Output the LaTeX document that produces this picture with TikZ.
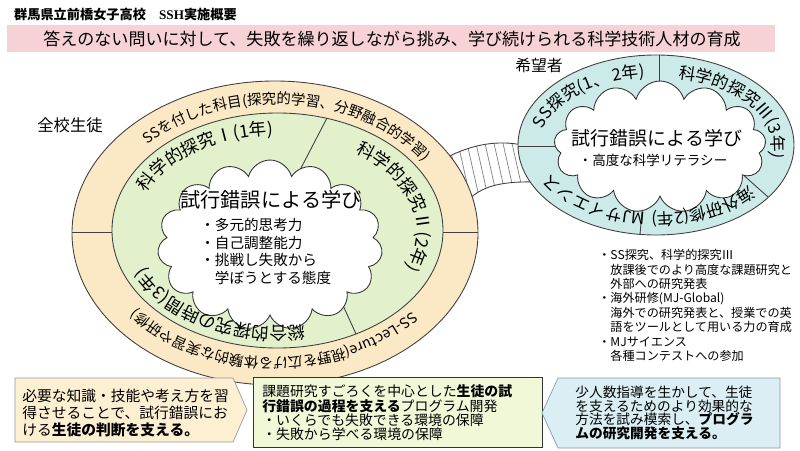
\documentclass[tikz,border=0pt]{standalone}
\usepackage{fontspec}
\setmainfont{Noto Sans CJK JP}
\newfontfamily\sshfont{Liberation Serif}
\usetikzlibrary{shapes.symbols,decorations.text}

\definecolor{bandcream}{HTML}{FBE8C4}
\definecolor{ringgreen}{HTML}{E2F0CC}
\definecolor{ringteal}{HTML}{CBEAE8}
\definecolor{titlepink}{HTML}{F6D2D6}
\definecolor{boxcream}{HTML}{FDEFD2}
\definecolor{boxlime}{HTML}{F1F8D8}
\definecolor{boxblue}{HTML}{DAEEF3}
\definecolor{boxblueline}{HTML}{7F9FAA}

\newcommand\fs[2]{\fontsize{#1}{#2}\selectfont}
\newcommand\bandfont{\fs{8.2}{9}}
\newcommand\ringfont{\fs{10}{11}}
\newcommand\tealfont{\fs{9.5}{10}}
\setlength\lineskiplimit{-4pt}

\tikzset{
  ringtext/.style={decorate, decoration={text along path, text align=center, text={#1}}},
  thinline/.style={draw=black!75, line width=0.5pt},
  idea/.style={cloud, cloud puffs=#1, cloud ignores aspect, draw=black!80, fill=white, line width=0.5pt},
}

\begin{document}
\begin{tikzpicture}[x=0.02cm,y=0.02cm]
\useasboundingbox (0,0) rectangle (800,450);
%-- title
\node[anchor=west, font=\fs{7.5}{9}\bfseries] (school) at (8,435) {群馬県立前橋女子高校　{\sshfont SSH}実施概要};
\fill[titlepink] (7,398) rectangle (775,425);
\node[font=\fs{9.7}{11}] (goal) at (392,411.5) {答えのない問いに対して、失敗を繰り返しながら挑み、学び続けられる科学技術人材の育成};

%-- bridge between the two groups
\begin{scope}
  \clip (446,292) .. controls (470,305) and (500,312) .. (530,303) -- (536,268) .. controls (495,269) and (478,262) .. (462,244) -- cycle;
  \foreach \x in {410,419,...,560}
    \draw[black!50, line width=0.4pt] (\x,320) -- ++(18,-80);
\end{scope}
\draw[thinline] (446,292) .. controls (470,305) and (500,312) .. (530,303);
\draw[thinline] (462,244) .. controls (478,262) and (495,269) .. (536,268);

%-- all students
\node[font=\fs{9.3}{11}] (allstudents) at (70,325) {全校生徒};
\draw[thinline, fill=bandcream] (275,217) ellipse[x radius=203, y radius=152];
\draw[thinline, fill=ringgreen] (277.5,219.5) ellipse[x radius=165.5, y radius=117.5];
\draw[thinline] (72,218) -- (112,218);
\draw[thinline] (443,218) -- (478,218);
\draw[thinline] (300,280) -- (327,332);
\draw[thinline] (336,160) -- (356,116);
\node[idea=15, minimum width=4.5cm, minimum height=3.4cm] (core) at (270,205) {};
\path[ringtext={|\bandfont|SSを付した科目(探究的学習、分野融合的学習)}]
  (276,219) ++(174:176 and 127) arc[start angle=174, end angle=-6, x radius=176, y radius=127];
\path[ringtext={|\bandfont|SS-Lecture(視野を広げる体験的な実習や研修)}]
  (276,219) ++(-1:176 and 127) arc[start angle=-1, end angle=-181, x radius=176, y radius=127];
\path[ringtext={|\ringfont|科学的探究Ⅰ(1年)}]
  (277,219) ++(183:143 and 96) arc[start angle=183, end angle=73, x radius=143, y radius=96];
\path[ringtext={|\ringfont|科学的探究Ⅱ(2年)}]
  (277,219) ++(70:140 and 94) arc[start angle=70, end angle=-40, x radius=140, y radius=94];
\path[ringtext={|\ringfont|総合的探究の時間(3年)}]
  (277,219) ++(-66:143 and 96) arc[start angle=-66, end angle=-176, x radius=143, y radius=96];
\node[font=\fs{11.5}{13}] (coretitle) at (271,250) {試行錯誤による学び};
\node[anchor=north west, align=left, inner sep=0, font=\fs{8.3}{10}] (corelist) at (200,232)
  {・多元的思考力\\・自己調整能力\\・挑戦し失敗から\\　学ぼうとする態度};

%-- volunteers
\node[font=\fs{9}{11}] (volunteers) at (539,385) {希望者};
\draw[thinline, fill=ringteal] (656,305) ellipse[x radius=138, y radius=90];
\draw[thinline] (659,395) -- (659,360);
\draw[thinline] (518,304) -- (570,304);
\draw[thinline] (740,278) -- (768,253);
\draw[thinline] (643,250) -- (640,215.6);
\node[idea=13, minimum width=4.24cm, minimum height=2.64cm] (hope) at (660,303) {};
\path[ringtext={|\tealfont|SS探究(1、 2年)}]
  (656,305) ++(191:116 and 68) arc[start angle=191, end angle=81, x radius=116, y radius=68];
\path[ringtext={|\tealfont|科学的探究Ⅲ(3年)}]
  (656,305) ++(87:116 and 68) arc[start angle=87, end angle=-23, x radius=116, y radius=68];
\path[ringtext={|\tealfont|海外研修(2年)}]
  (656,305) ++(-10:116 and 68) arc[start angle=-10, end angle=-110, x radius=116, y radius=68];
\path[ringtext={|\tealfont|MJサイエンス}]
  (656,305) ++(-80:116 and 68) arc[start angle=-80, end angle=-180, x radius=116, y radius=68];
\node[font=\fs{10.8}{12}] (hopetitle) at (657,312) {試行錯誤による学び};
\node[font=\fs{7.7}{9}] (hopelist) at (653,290) {・高度な科学リテラシー};
\node[anchor=north west, align=left, inner sep=0, font=\fs{6.9}{8.2}] (hopenotes) at (598,201)
  {・SS探究、科学的探究Ⅲ\\　放課後でのより高度な課題研究と\\　外部への研究発表\\・海外研修(MJ-Global)\\　海外での研究発表と、授業での英\\　語をツールとして用いる力の育成\\・MJサイエンス\\　各種コンテストへの参加};

%-- support boxes
\filldraw[fill=boxcream, draw=black!40] (15,72) -- (233,72) -- (247,40) -- (233,8) -- (15,8) -- cycle;
\node[anchor=west, align=left, inner sep=0, font=\fs{8.4}{9.9}] (judge) at (22,37)
  {必要な知識・技能や考え方を習\\得させることで、試行錯誤にお\\ける\textbf{生徒の判断を支える。}};
\filldraw[fill=boxlime, draw=black!80] (253,3) rectangle (542,73);
\node[anchor=west, align=left, inner sep=0, font=\fs{7.9}{8.2}] (program) at (262,37)
  {課題研究すごろくを中心とした\textbf{生徒の試}\\\textbf{行錯誤の過程を支える}プログラム開発\\・いくらでも失敗できる環境の保障\\・失敗から学べる環境の保障};
\filldraw[fill=boxblue, draw=boxblueline] (542,37) -- (558,72) -- (780,72) -- (780,2) -- (558,2) -- cycle;
\node[anchor=west, align=left, inner sep=0, font=\fs{7.8}{7.8}] (support) at (575,37)
  {少人数指導を生かして、生徒\\を支えるためのより効果的な\\方法を試み模索し、\textbf{プログラ}\\\textbf{ムの研究開発を支える。}};
\end{tikzpicture}
\end{document}
